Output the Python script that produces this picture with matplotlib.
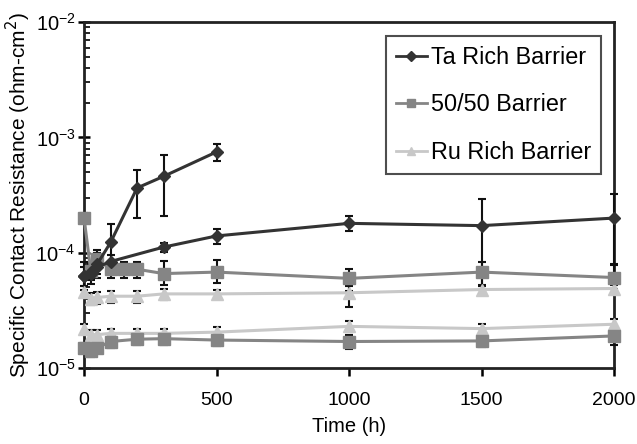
import numpy as np
import matplotlib
matplotlib.use("Agg")
from matplotlib import pyplot as plt
from matplotlib.ticker import LogLocator, FixedLocator, NullFormatter

plt.rcParams['font.family'] = ['Liberation Sans', 'DejaVu Sans']

# Ta rich barrier, two sets of contacts
ta1_x = [0, 25, 50, 100, 200, 300, 500]
ta1_y = [6.3e-5, 6.6e-5, 8.0e-5, 1.23e-4, 3.65e-4, 4.6e-4, 7.5e-4]
ta1_lo = [1.5e-5, 1.2e-5, 2.0e-5, 4.0e-5, 1.65e-4, 2.5e-4, 1.3e-4]
ta1_hi = [2.0e-5, 1.5e-5, 2.5e-5, 5.5e-5, 1.6e-4, 2.5e-4, 1.3e-4]

ta2_x = [0, 25, 50, 100, 300, 500, 1000, 1500, 2000]
ta2_y = [6.3e-5, 6.8e-5, 7.5e-5, 8.4e-5, 1.12e-4, 1.40e-4, 1.80e-4, 1.72e-4, 2.0e-4]
ta2_lo = [1.2e-5, 1.0e-5, 1.0e-5, 1.2e-5, 1.0e-5, 2.0e-5, 2.4e-5, 1.2e-4, 1.2e-4]
ta2_hi = [1.2e-5, 1.0e-5, 1.0e-5, 1.2e-5, 1.0e-5, 2.2e-5, 3.0e-5, 1.2e-4, 1.25e-4]

# 50/50 barrier
mid1_x = [0, 25, 50, 100, 150, 200, 300, 500, 1000, 1500, 2000]
mid1_y = [2.0e-4, 7.0e-5, 8.8e-5, 7.2e-5, 7.2e-5, 7.2e-5, 6.6e-5, 6.8e-5, 6.0e-5, 6.8e-5, 6.1e-5]
mid1_lo = [2.0e-5, 1.0e-5, 1.2e-5, 1.2e-5, 1.2e-5, 1.2e-5, 1.3e-5, 1.3e-5, 1.3e-5, 1.5e-5, 1.2e-5]
mid1_hi = [2.0e-5, 1.0e-5, 1.2e-5, 1.2e-5, 1.2e-5, 1.2e-5, 1.9e-5, 1.8e-5, 1.2e-5, 1.5e-5, 1.8e-5]

mid2_x = [0, 25, 50, 100, 200, 300, 500, 1000, 1500, 2000]
mid2_y = [1.5e-5, 1.4e-5, 1.5e-5, 1.7e-5, 1.78e-5, 1.8e-5, 1.75e-5, 1.7e-5, 1.72e-5, 1.9e-5]
mid2_err = [1.5e-6, 1.5e-6, 1.5e-6, 2e-6, 2e-6, 2e-6, 2e-6, 2.5e-6, 2e-6, 3e-6]

# Ru rich barrier
ru1_x = [0, 25, 50, 100, 200, 300, 500, 1000, 1500, 2000]
ru1_y = [4.6e-5, 4.0e-5, 4.1e-5, 4.2e-5, 4.2e-5, 4.4e-5, 4.4e-5, 4.5e-5, 4.8e-5, 4.9e-5]
ru1_lo = [5e-6, 5e-6, 5e-6, 5e-6, 5e-6, 5e-6, 4e-6, 1.1e-5, 4e-6, 4e-6]
ru1_hi = [5e-6, 5e-6, 5e-6, 5e-6, 5e-6, 5e-6, 4e-6, 6e-6, 4e-6, 4e-6]

ru2_x = [0, 25, 50, 100, 200, 300, 500, 1000, 1500, 2000]
ru2_y = [2.2e-5, 1.95e-5, 1.95e-5, 2.0e-5, 2.0e-5, 2.0e-5, 2.05e-5, 2.3e-5, 2.2e-5, 2.4e-5]
ru2_err = [2e-6, 2e-6, 2e-6, 2e-6, 2e-6, 2e-6, 2e-6, 2.5e-6, 2e-6, 2.5e-6]

x_ticks = [0, 500, 1000, 1500, 2000]

fig = plt.figure(figsize=(6.37, 4.44), dpi=100)
ax = fig.add_axes([0.132, 0.171, 0.832, 0.779])

c_ta = '#333333'
c_mid = '#858585'
c_ru = '#c8c8c8'

def serie(x, y, err, color, marker, ms, label=None):
    ax.errorbar(x, y, yerr=err, color=color, marker=marker, markersize=ms,
                lw=2.2, ecolor='#111111', elinewidth=1.5, capsize=3, capthick=1.5,
                label=label, clip_on=False, zorder=3)

serie(ru2_x, ru2_y, ru2_err, c_ru, '^', 8)
serie(ru1_x, ru1_y, [ru1_lo, ru1_hi], c_ru, '^', 8)
serie(mid2_x, mid2_y, mid2_err, c_mid, 's', 8)
serie(mid1_x, mid1_y, [mid1_lo, mid1_hi], c_mid, 's', 8)
serie(ta2_x, ta2_y, [ta2_lo, ta2_hi], c_ta, 'D', 6)
serie(ta1_x, ta1_y, [ta1_lo, ta1_hi], c_ta, 'D', 6)

# legend handles
ax.plot([], [], color=c_ta, marker='D', ms=5, lw=2, label='Ta Rich Barrier')
ax.plot([], [], color=c_mid, marker='s', ms=6, lw=2, label='50/50 Barrier')
ax.plot([], [], color=c_ru, marker='^', ms=6, lw=2, label='Ru Rich Barrier')
h, l = ax.get_legend_handles_labels()
leg = ax.legend(h[-3:], l[-3:], loc='upper right', bbox_to_anchor=(0.976, 0.96),
                fontsize=16.8, frameon=True, fancybox=False, edgecolor='#222222',
                handlelength=1.3, handletextpad=0.2, labelspacing=1.05,
                borderpad=0.42, borderaxespad=0)
leg.get_frame().set_linewidth(1.5)

ax.set_yscale('log')
ax.set_ylim(1e-5, 1e-2)
ax.set_xlim(0, 2000)
ax.xaxis.set_major_locator(FixedLocator(x_ticks))
ax.yaxis.set_major_locator(LogLocator(base=10, numticks=10))
ax.yaxis.set_minor_locator(LogLocator(base=10, subs=np.arange(2, 10), numticks=10))
ax.yaxis.set_minor_formatter(NullFormatter())

for s in ax.spines.values():
    s.set_linewidth(2)
    s.set_color('#222222')

ax.tick_params(axis='x', direction='out', length=6, width=1.8, pad=11, labelsize=14)
ax.tick_params(axis='y', which='major', direction='inout', length=8, width=1.8, pad=2, labelsize=14.5)
ax.tick_params(axis='y', which='minor', direction='in', length=4, width=1.2)

ax.set_xlabel('Time (h)', fontsize=14.5, labelpad=6)
ax.set_ylabel('Specific Contact Resistance (ohm-cm$^2$)', fontsize=15, labelpad=2)

fig.savefig('out.png', dpi=100)
